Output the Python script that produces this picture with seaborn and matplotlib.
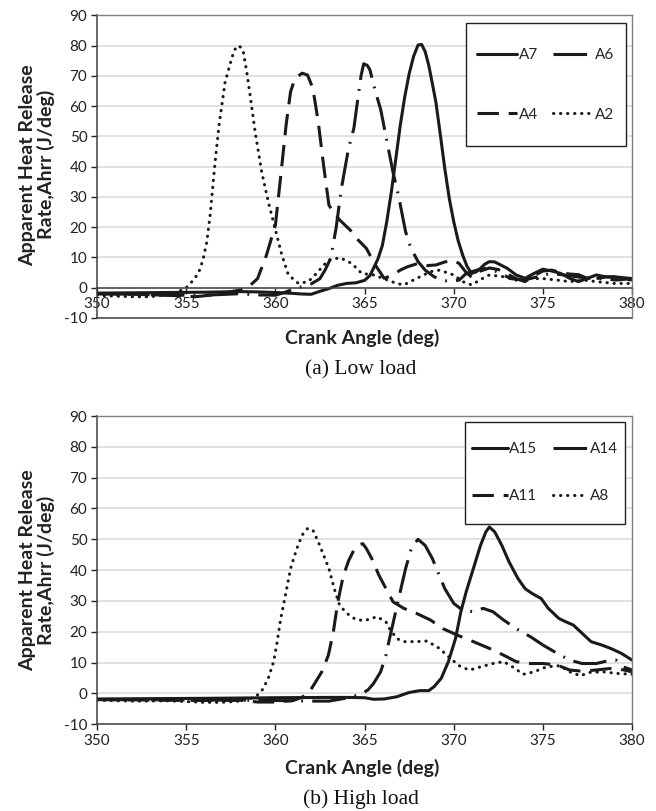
import numpy as np
import matplotlib
matplotlib.use("Agg")
from matplotlib import pyplot as plt
from matplotlib.patches import Rectangle
import seaborn as sns

# ---- (a) low load ----
a7_x = [350, 352, 354, 356, 358, 359, 360, 361, 361.5, 362, 362.5, 363, 363.5, 364, 364.5, 365,
        365.3, 365.5, 365.75, 366, 366.25, 366.5, 366.75, 367, 367.25, 367.5, 367.75, 368, 368.2,
        368.4, 368.6, 368.8, 369, 369.25, 369.5, 369.75, 370, 370.25, 370.5, 370.75, 371, 371.25,
        371.5, 371.75, 372, 372.3, 372.6, 373, 373.5, 374, 374.5, 375, 375.5, 376, 376.5, 377,
        377.5, 378, 378.5, 379, 379.5, 380]
a7_y = [-1.8, -1.7, -1.6, -1.5, -1.3, -1.4, -1.6, -1.9, -2.1, -2.2, -1.2, -0.3, 0.8, 1.4, 1.6, 2.4,
        4, 6.4, 9.5, 14, 22, 31.6, 42.5, 53.6, 63, 70.7, 76.5, 80.2, 80.4,
        78, 73.5, 67.5, 61.3, 50.5, 39.3, 29.5, 21.8, 15.5, 10.8, 7, 4.7, 5.2,
        6.4, 7.8, 8.6, 8.5, 7.6, 6.4, 4.2, 3.1, 4.7, 6.1, 5.5, 4.7, 3.1, 2,
        3.1, 4.2, 3.6, 3.6, 3.3, 3]

a6_x = [350, 352, 354, 356, 358, 359, 360, 360.5, 361, 361.5, 362, 362.5, 362.8, 363.1, 363.4,
        363.7, 364.1, 364.4, 364.6, 364.8, 364.95, 365.15, 365.3, 365.6, 365.9, 366.2, 366.6,
        366.9, 367.3, 367.6, 368, 368.4, 368.9, 369.35, 369.8, 370.3, 370.7, 371.3, 371.85,
        372.4, 373.2, 373.9, 374.7, 375.4, 376.2, 376.9, 377.7, 378.4, 379.1, 380]
a6_y = [-2.0, -2.2, -2.5, -2.5, -2.0, -2.4, -2.5, -1.6, -0.5, 0.3, 1.2, 3, 6, 9.7, 19.6,
        32.8, 46, 52.7, 61.5, 70, 74, 73.5, 72, 65, 59, 50, 38,
        30.5, 18.5, 13, 8.6, 5.8, 3.6, 2.5, 2, 2.5, 4.7, 5.8, 6.4,
        5.3, 3, 2.5, 3.6, 4.7, 4.2, 3.6, 3, 3, 2.5, 3]

a4_x = [350, 352, 354, 355.5, 356.5, 357, 358, 358.5, 359, 359.5, 360, 360.3, 360.6, 360.85,
        361.1, 361.5, 361.8, 362.1, 362.4, 362.7, 363, 363.3, 363.6, 364.2, 364.6, 365.1, 365.6,
        366.1, 366.6, 367, 367.4, 368, 368.5, 369, 369.5, 370, 370.3, 370.7, 371, 371.5, 372,
        372.5, 373, 373.5, 374, 374.5, 375, 375.5, 376, 376.5, 377, 377.5, 378, 378.5, 379,
        379.5, 380]
a4_y = [-2.0, -2.2, -2.5, -3.0, -2.4, -1.9, -0.8, 0.3, 3, 10.8, 20.7, 37, 53.8, 64.8,
        69.2, 70.9, 70.3, 65.9, 54.9, 40.5, 27.3, 24.5, 22.4, 19, 16, 13, 7.5,
        3.1, 4.2, 5.8, 6.9, 8, 7.3, 7.5, 8.5, 9, 8, 5, 3.5, 5.5, 6.5,
        6, 4.5, 3, 2, 4, 5.5, 5.8, 5, 4.5, 4.3, 3, 3, 3.5, 3.5,
        3, 2.5]

a2_x = [350, 351, 352, 353, 354, 354.5, 355, 355.4, 355.7, 355.93, 356.15, 356.34, 356.62, 356.84,
        357.18, 357.55, 357.7, 357.89, 358.05, 358.2, 358.4, 358.58, 358.86, 359.23, 359.6,
        359.98, 360.36, 360.73, 361.29, 361.85, 362.22, 362.97, 363.63, 364.28, 364.84, 365.5,
        366.07, 366.8, 367.2, 367.9, 368.7, 369.2, 370, 370.5, 371, 371.6, 372, 372.8, 373.5,
        374.3, 375, 375.8, 376.5, 377.3, 378, 379, 380]
a2_y = [-2.5, -2.8, -3.0, -3.0, -2.2, -1.5, 0, 2.5, 5, 9, 15, 24, 41.7, 53.8,
        68, 75.8, 78.5, 80, 79.5, 78, 71, 63.7, 51.6, 38.3, 28.4,
        19.6, 10.8, 4.2, 1.4, 2, 4.2, 9.1, 9.9, 8, 4.7, 4.2,
        3, 1.4, 0.9, 3, 5.3, 5.8, 4.2, 2, 0.9, 3, 4.2, 3.6, 2.5,
        3, 3, 2.5, 2, 2.5, 2, 1.4, 1.4]

# ---- (b) high load ----
a15_x = [350, 353, 356, 360, 363, 364, 365, 365.5, 366.1, 366.8, 367.5, 368.1, 368.6, 368.9, 369.3,
         369.7, 370.1, 370.4, 370.7, 371.1, 371.5, 371.8, 372, 372.3, 372.7, 373.1, 373.6, 374,
         374.4, 374.9, 375.3, 375.9, 376.3, 376.7, 377.2, 377.7, 378.3, 378.8, 379.4, 380]
a15_y = [-1.8, -1.7, -1.6, -1.4, -1.3, -1.3, -1.4, -1.9, -1.8, -1.1, 0.3, 0.9, 0.9, 2.2, 4.9,
         10.3, 17.8, 26.5, 33, 40.5, 48, 52.4, 54, 52.4, 48, 42.7, 37.3, 34,
         32.4, 30.8, 27.6, 24.3, 23.2, 22.2, 19.5, 16.8, 15.7, 14.6, 13, 10.8]

a14_x = [350, 354, 358, 360, 361, 362.1, 363, 363.9, 364.8, 365.2, 365.5, 365.9, 366.2, 366.4,
         366.7, 367, 367.3, 367.65, 368, 368.4, 368.8, 369.1, 369.5, 370, 370.5, 371.1, 371.65,
         372.2, 372.8, 373.5, 374.3, 375, 375.8, 376.5, 377.2, 378, 378.8, 379.1, 379.5, 380]
a14_y = [-2.0, -2.1, -2.2, -2.3, -2.4, -2.5, -2.5, -1.6, -0.3, 1.2, 3.2, 7, 12.4, 17.8,
         25.4, 33, 40.5, 47.6, 50, 48, 43.8, 39.5, 34, 29.2, 27, 26.5, 27.6,
         26.5, 23.8, 21, 18.4, 15.7, 13, 10.8, 9.7, 9.7, 10.8, 10.8, 8.6, 7.6]

a11_x = [350, 354, 356, 358, 359, 360, 361, 361.5, 361.85, 362.2, 362.6, 362.97, 363.25, 363.5,
         363.8, 364.1, 364.4, 364.7, 364.9, 365.1, 365.4, 365.8, 366.2, 366.6, 367.2, 367.9,
         368.7, 369.4, 370.2, 371.1, 372, 372.8, 373.5, 374.3, 375, 375.8, 376.5, 377.2, 378,
         378.8, 379.3, 380]
a11_y = [-2.0, -2.2, -2.3, -2.2, -2.8, -2.8, -2.3, -1.2, 0, 3.2, 7, 12.4, 20, 29.7,
         38, 43, 46.5, 48.2, 48.6, 47, 43.8, 38.4, 34, 29.7, 27.6, 26,
         23.8, 21, 18.9, 16.8, 14.6, 12.4, 10.3, 9.7, 9.7, 9.2, 7.6, 7.2, 7.6,
         8.1, 7.9, 7]

a8_x = [350, 352, 354, 356, 357, 358, 358.5, 359, 359.3, 359.6, 359.9, 360.1, 360.3, 360.6, 360.85,
        361.2, 361.5, 361.8, 362.1, 362.4, 362.7, 363, 363.3, 363.6, 364, 364.5, 365, 365.7,
        366.2, 366.4, 366.8, 367.2, 367.9, 368.5, 369.2, 369.8, 370.4, 370.9, 371.5, 372.2,
        372.8, 373.3, 373.9, 374.5, 375.2, 375.95, 376.5, 377.1, 377.6, 378.4, 379.1, 380]
a8_y = [-2.2, -2.5, -2.4, -2.9, -2.9, -2.5, -2, -0.5, 1.4, 4.9, 10.3, 16.8, 24.3, 33, 40.5,
        47, 51.4, 53.5, 53, 49.2, 44.9, 40.5, 34, 28.6, 26, 24, 23.6, 24.9,
        23.2, 21, 17.8, 16.8, 16.8, 17, 14.6, 11.4, 8.6, 7.6, 8.6, 9.7,
        10.3, 8.6, 6.2, 7, 8.6, 9, 7, 5.7, 6.8, 7, 6.5, 6.2]

SOLID = '-'
DASHDOT = (0, (11, 3, 0.6, 3))
DASHED = (0, (7, 3.2))
DOTTED = (0, (0.1, 2.2))

sns.set_theme(style="white")
plt.rcParams['font.family'] = ['Lato', 'DejaVu Sans']
plt.rcParams['axes.unicode_minus'] = False

fig = plt.figure(figsize=(6.56, 8.11), dpi=100)
ax1 = fig.add_axes([0.148, 0.608, 0.8155, 0.373])
ax2 = fig.add_axes([0.148, 0.107, 0.8155, 0.380])

ink = '#1a1a1a'


def draw(ax, series, order, box, lab_sp, hlen):
    lines = {}
    for name, xs, ys, ls in series:
        sns.lineplot(x=xs, y=ys, ax=ax, color=ink, lw=2.2, linestyle=ls,
                     dash_capstyle='round' if ls is DOTTED else 'butt',
                     sort=False, estimator=None, label=name)
        lines[name] = ax.get_lines()[-1]
    ax.set_xlim(350, 380)
    ax.set_ylim(-10, 90)
    ax.set_xticks(range(350, 381, 5))
    ax.set_yticks(range(-10, 91, 10))
    ax.yaxis.grid(True, color='#d9d9d9', lw=1.1)
    ax.set_axisbelow(True)
    ax.tick_params(axis='both', labelsize=11, colors='#222222', length=4, width=1,
                   direction='out', pad=3)
    ax.tick_params(axis='x', bottom=True)
    ax.tick_params(axis='y', left=True)
    for s in ['top', 'right']:
        ax.spines[s].set_color('#808080')
        ax.spines[s].set_linewidth(1)
    for s in ['left', 'bottom']:
        ax.spines[s].set_color('#404040')
        ax.spines[s].set_linewidth(1.1)
    ax.set_ylabel('Apparent Heat Release\nRate,Ahrr (J/deg)', fontsize=14,
                  fontweight='bold', color='#222222', linespacing=1.05)
    ax.set_xlabel('Crank Angle (deg)', fontsize=14, fontweight='bold', color='#222222')

    # legend frame drawn as its own box, entries centred in it
    x0, y0, x1, y1 = box
    ax.add_patch(Rectangle((x0, y0), x1 - x0, y1 - y0, transform=ax.transAxes,
                           facecolor='white', edgecolor='#222222', lw=1, zorder=4))
    hs = [lines[n] for n in order]
    ax.legend(hs, order, ncol=2, loc='center', bbox_to_anchor=((x0 + x1) / 2, (y0 + y1) / 2),
              frameon=False, borderaxespad=0, borderpad=0, fontsize=11, handlelength=hlen,
              handletextpad=0.12, columnspacing=1.0, labelspacing=lab_sp)
    return ax


draw(ax1, [('A7', a7_x, a7_y, SOLID), ('A6', a6_x, a6_y, DASHDOT),
           ('A4', a4_x, a4_y, DASHED), ('A2', a2_x, a2_y, DOTTED)],
     ['A7', 'A4', 'A6', 'A2'], (0.689, 0.567, 0.988, 0.974), 3.0, 2.6)
draw(ax2, [('A15', a15_x, a15_y, SOLID), ('A14', a14_x, a14_y, DASHDOT),
           ('A11', a11_x, a11_y, DASHED), ('A8', a8_x, a8_y, DOTTED)],
     ['A15', 'A11', 'A14', 'A8'], (0.688, 0.650, 0.987, 0.981), 2.15, 2.3)

# top panel: horizontal axis crosses at zero, box still closed at -10
ax1.spines['bottom'].set_position(('data', 0))
ax1.plot([0, 1], [0, 0], transform=ax1.transAxes, color='#404040', lw=1.1, clip_on=False)

ax1.xaxis.set_label_coords(0.495, -0.035)
ax2.xaxis.set_label_coords(0.495, -0.112)
ax1.yaxis.set_label_coords(-0.078, 0.506)
ax2.yaxis.set_label_coords(-0.078, 0.5)

fig.text(0.550, 0.5445, '(a) Low load', family='Liberation Serif', fontsize=15.5,
         ha='center', va='center', color='#111111')
fig.text(0.550, 0.0145, '(b) High load', family='Liberation Serif', fontsize=15.5,
         ha='center', va='center', color='#111111')

fig.savefig('out.png', dpi=100)
